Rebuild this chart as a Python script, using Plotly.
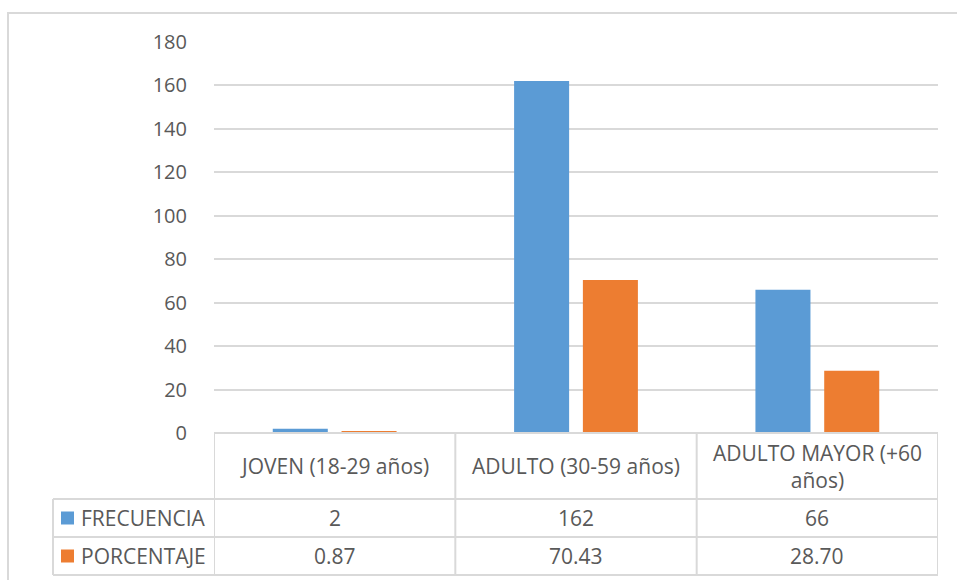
import plotly.graph_objects as go

# Grupos de edad y valores por serie
categorias = ["JOVEN (18-29 años)", "ADULTO (30-59 años)", "ADULTO MAYOR (+60<br>años)"]
frecuencia = [2, 162, 66]
porcentaje = [0.87, 70.43, 28.70]
etiquetas_porcentaje = ["0.87", "70.43", "28.70"]
series = ["FRECUENCIA", "PORCENTAJE"]
colores = ["#5B9BD5", "#ED7D31"]
y_ticks = [0, 20, 40, 60, 80, 100, 120, 140, 160, 180]

W, H = 957, 580
L, R, T, B = 214, 19, 42, 147
PW, PH = W - L - R, H - T - B

FONT = "Open Sans"
TXT = "#595959"
GRID = "#d9d9d9"


def py(pix):
    """Pixel row -> paper y."""
    return (H - B - pix) / PH


def px(pix):
    """Pixel column -> paper x."""
    return (pix - L) / PW


xs = list(range(len(categorias)))

fig = go.Figure()
fig.add_trace(go.Bar(x=xs, y=frecuencia, name=series[0], marker_color=colores[0],
                     marker_line_width=0))
fig.add_trace(go.Bar(x=xs, y=porcentaje, name=series[1], marker_color=colores[1],
                     marker_line_width=0))

shapes = []
annotations = []

# Marco exterior del gráfico
shapes.append(dict(type="rect", xref="paper", yref="paper",
                   x0=px(8), x1=px(962), y0=py(13), y1=py(590),
                   line=dict(color=GRID, width=2), fillcolor="rgba(0,0,0,0)", layer="below"))

# Tabla de datos bajo el eje
row_tops = [433, 499, 537, 575]
line_style = dict(color=GRID, width=2)
# líneas verticales entre categorías
for i in range(len(categorias) + 1):
    xv = i - 0.5
    shapes.append(dict(type="line", xref="x", yref="paper", x0=xv, x1=xv,
                       y0=py(433), y1=py(575), line=line_style))
# columna de leyenda
shapes.append(dict(type="line", xref="paper", yref="paper", x0=px(53), x1=px(53),
                   y0=py(499), y1=py(575), line=line_style))
# líneas horizontales
shapes.append(dict(type="line", xref="x", yref="paper", x0=-0.5, x1=len(categorias) - 0.5,
                   y0=py(433), y1=py(433), line=line_style))
for yy in row_tops[1:]:
    shapes.append(dict(type="line", xref="paper", yref="paper", x0=px(53), x1=1,
                       y0=py(yy), y1=py(yy), line=line_style))

font = dict(family=FONT, size=21, color=TXT)
# encabezados de categoría
for i, c in enumerate(categorias):
    annotations.append(dict(x=i, y=py(466), xref="x", yref="paper", text=c,
                            showarrow=False, font=font, align="center",
                            xanchor="center", yanchor="middle"))
# filas de valores
filas = [
    (series[0], colores[0], [str(v) for v in frecuencia], 518),
    (series[1], colores[1], etiquetas_porcentaje, 556),
]
for nombre, color, valores, yc in filas:
    shapes.append(dict(type="rect", xref="paper", yref="paper",
                       x0=px(61), x1=px(74), y0=py(yc - 6.5), y1=py(yc + 6.5),
                       fillcolor=color, line=dict(width=0)))
    annotations.append(dict(x=px(79), y=py(yc), xref="paper", yref="paper", text=nombre,
                            showarrow=False, font=font, xanchor="left", yanchor="middle"))
    for i, v in enumerate(valores):
        annotations.append(dict(x=i, y=py(yc), xref="x", yref="paper", text=v,
                                showarrow=False, font=font, xanchor="center",
                                yanchor="middle"))

fig.update_layout(
    width=W, height=H,
    margin=dict(l=L, r=R, t=T, b=B, autoexpand=False),
    paper_bgcolor="white", plot_bgcolor="white",
    barmode="group", bargap=0.43, bargroupgap=0.2,
    showlegend=False,
    font=dict(family=FONT, color=TXT),
    xaxis=dict(range=[-0.5, len(categorias) - 0.5], showticklabels=False,
               showgrid=False, zeroline=False, showline=False, fixedrange=True),
    yaxis=dict(range=[0, 180], tickvals=y_ticks, showgrid=True, gridcolor=GRID,
               gridwidth=1.5, zeroline=False, showline=False,
               ticks="outside", ticklen=22, tickcolor="rgba(0,0,0,0)",
               tickfont=dict(family=FONT, size=20, color=TXT), fixedrange=True),
    shapes=shapes, annotations=annotations,
)

fig.write_html("out.html")
